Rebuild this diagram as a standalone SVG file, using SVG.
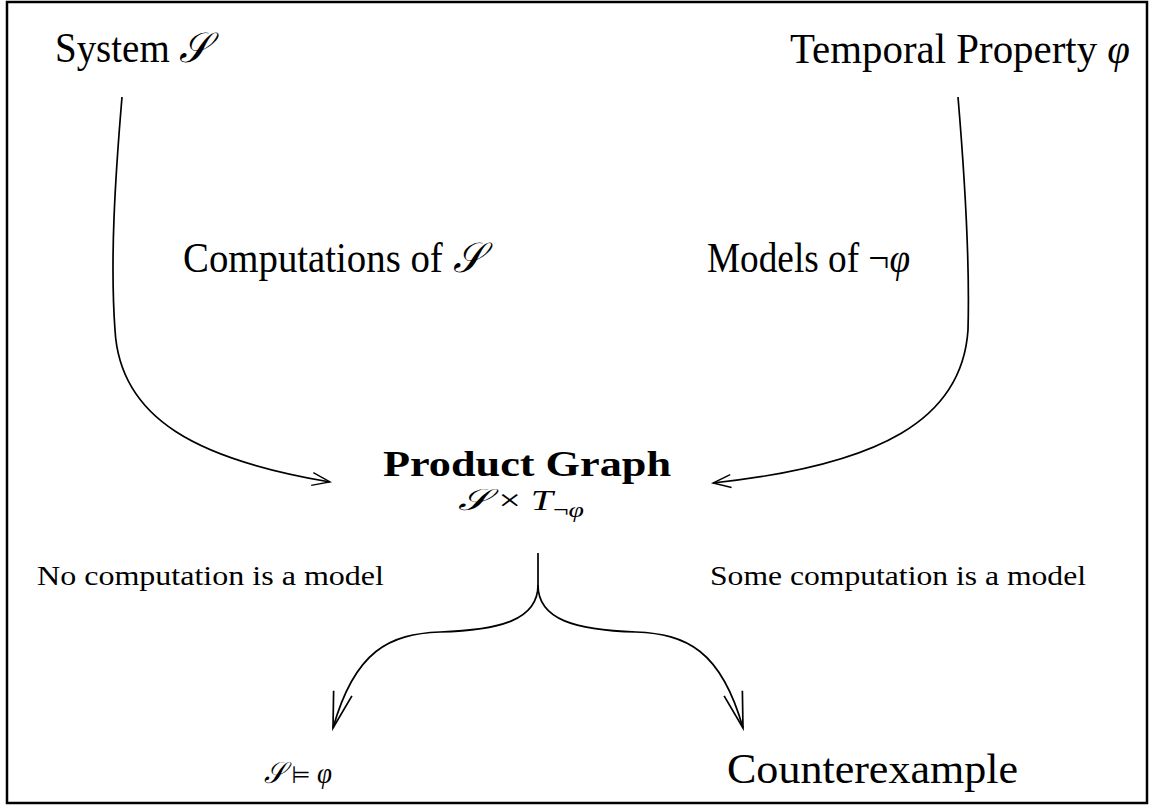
<svg xmlns="http://www.w3.org/2000/svg" width="1150" height="806" viewBox="0 0 1150 806">
<style>
.t{font-family:"Liberation Serif","DejaVu Serif",serif;fill:#000}
.big{font-size:42px}
.mid{font-size:28px}
.b{font-weight:bold;font-size:36px}
.m{font-family:"DejaVu Serif","Liberation Serif",serif;font-style:italic}
.p{font-family:"Liberation Serif",serif;font-style:italic}
.c{fill:none;stroke:#000;stroke-width:1.7}
</style>
<defs>
<marker id="sm" markerUnits="userSpaceOnUse" markerWidth="30" markerHeight="30" refX="0" refY="0" viewBox="-25 -15 30 30" orient="auto" overflow="visible">
<path d="M-18,-6.5 L0,0 L-18,6.5" fill="none" stroke="#000" stroke-width="1.4"/>
</marker>
<marker id="lg" markerUnits="userSpaceOnUse" markerWidth="50" markerHeight="50" refX="0" refY="0" viewBox="-45 -25 50 50" orient="auto" overflow="visible">
<path d="M-36,-9.5 L0,0 L-36,9.5" fill="none" stroke="#000" stroke-width="1.7"/>
</marker>
</defs>
<rect x="7" y="2" width="1140" height="801" fill="#fff" stroke="#000" stroke-width="2.5"/>
<g id="connectors">
<path class="c" d="M122,97 C115,180 110,260 115,330 C120,420 200,460 330,482" marker-end="url(#sm)"/>
<path class="c" d="M958,97 C965,180 970,260 968,330 C962,420 880,465 713,483" marker-end="url(#sm)"/>
<path class="c" d="M538,553 L538,585 C538,620 500,630 440,632 C390,634 355,650 333,728" marker-end="url(#lg)"/>
<path class="c" d="M538,585 C538,620 576,630 636,632 C686,634 721,650 743,728" marker-end="url(#lg)"/>
</g>
<g id="system"><text class="t big" x="55" y="62" textLength="155" lengthAdjust="spacingAndGlyphs">System <tspan class="m">𝒮</tspan></text></g>
<g id="property"><text class="t big" x="790" y="63" textLength="340" lengthAdjust="spacingAndGlyphs">Temporal Property <tspan class="p">φ</tspan></text></g>
<g id="computations"><text class="t big" x="183" y="272" textLength="300" lengthAdjust="spacingAndGlyphs">Computations of <tspan class="m">𝒮</tspan></text></g>
<g id="models"><text class="t big" x="707" y="272" textLength="203" lengthAdjust="spacingAndGlyphs">Models of ¬<tspan class="p">φ</tspan></text></g>
<g id="product">
<text class="t b" x="383" y="476" textLength="288" lengthAdjust="spacingAndGlyphs">Product Graph</text>
<text class="t" x="458" y="510" font-size="30" textLength="126" lengthAdjust="spacingAndGlyphs"><tspan class="m">𝒮</tspan> × <tspan class="p">T</tspan><tspan font-size="21" dy="7">¬</tspan><tspan class="p" font-size="21">φ</tspan></text>
</g>
<g id="lbl-no"><text class="t mid" x="37" y="585" textLength="347" lengthAdjust="spacingAndGlyphs">No computation is a model</text></g>
<g id="lbl-some"><text class="t mid" x="710" y="585" textLength="376" lengthAdjust="spacingAndGlyphs">Some computation is a model</text></g>
<g id="sat"><text class="t" x="264" y="783" font-size="30" textLength="68" lengthAdjust="spacingAndGlyphs"><tspan class="m">𝒮</tspan> <tspan font-family="DejaVu Sans" font-size="24">⊨</tspan> <tspan class="p">φ</tspan></text></g>
<g id="counter"><text class="t big" x="727" y="783" textLength="291" lengthAdjust="spacingAndGlyphs">Counterexample</text></g>
</svg>
